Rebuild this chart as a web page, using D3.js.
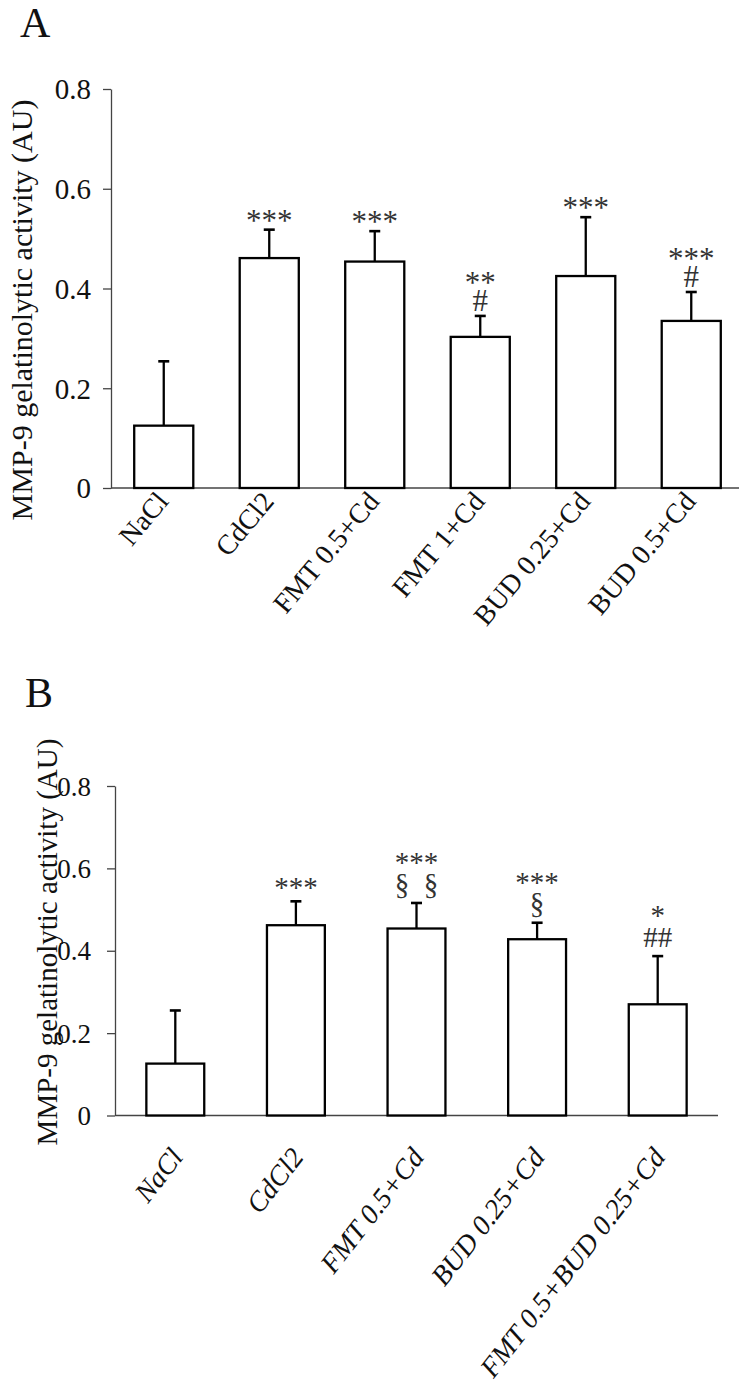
<!DOCTYPE html>
<html><head><meta charset="utf-8">
<script src="https://cdn.jsdelivr.net/npm/d3@7"></script>
<style>body{margin:0;background:#fff}svg{display:block}text{font-family:"Liberation Serif","Times New Roman",serif}</style>
</head><body>
<script>
// Panel A data
const catsA = ["NaCl","CdCl2","FMT 0.5+Cd","FMT 1+Cd","BUD 0.25+Cd","BUD 0.5+Cd"];
const meanA = [0.125,0.461,0.454,0.303,0.425,0.335];
const errA  = [0.129,0.057,0.061,0.042,0.118,0.058];
const annoA = [[],["***"],["***"],["**","#"],["***"],["***","#"]];
// Panel B data
const catsB = ["NaCl","CdCl2","FMT 0.5+Cd","BUD 0.25+Cd","FMT 0.5+BUD 0.25+Cd"];
const meanB = [0.126,0.462,0.454,0.428,0.270];
const errB  = [0.129,0.058,0.062,0.040,0.117];
const annoB = [[],["***"],["***","§\u2002§"],["***","§"],["*","##"]];
const yTicks = [0,0.2,0.4,0.6,0.8];
const yTickLabels = ["0","0.2","0.4","0.6","0.8"];

const svg = d3.select("body").append("svg").attr("width",752).attr("height",1391);

function panel(cfg){
  const g = svg.append("g");
  const x = d3.scaleBand().domain(cfg.cats).range([cfg.x0,cfg.x1]).paddingInner(cfg.pad).paddingOuter(cfg.pad/2);
  const y = d3.scaleLinear().domain([0,0.8]).range([cfg.yb,cfg.yt]);
  const ax = g.append("g").attr("transform",`translate(${cfg.x0},0)`)
    .call(d3.axisLeft(y).tickValues(yTicks).tickFormat((d,i)=>yTickLabels[i]).tickSize(8).tickPadding(cfg.tickPad).tickSizeOuter(0));
  ax.select(".domain").attr("stroke","#444").attr("stroke-width",1.3);
  ax.selectAll(".tick line").attr("stroke","#444").attr("stroke-width",1.3);
  ax.selectAll(".tick text").attr("font-size",cfg.tickFs).attr("fill","#111")
    .style("font-family",'"Liberation Serif",serif').attr("dy","0.34em");
  g.append("line").attr("x1",cfg.x0).attr("x2",cfg.xAxisEnd).attr("y1",y(0)).attr("y2",y(0))
    .attr("stroke","#444").attr("stroke-width",1.3);
  const bw = x.bandwidth();
  cfg.cats.forEach((c,i)=>{
    const cx = x(c)+bw/2;
    const top = y(cfg.mean[i]), cap = y(cfg.mean[i]+cfg.err[i]);
    g.append("line").attr("x1",cx).attr("x2",cx).attr("y1",top).attr("y2",cap).attr("stroke","#000").attr("stroke-width",2.3);
    g.append("line").attr("x1",cx-5.5).attr("x2",cx+5.5).attr("y1",cap).attr("y2",cap).attr("stroke","#000").attr("stroke-width",2.6);
    g.append("rect").attr("x",x(c)).attr("y",top).attr("width",bw).attr("height",y(0)-top)
      .attr("fill","#fff").attr("stroke","#000").attr("stroke-width",2.3);
    const lines = cfg.anno[i];
    lines.forEach((t,j)=>{
      const k = lines.length-1-j;
      const center = cap - cfg.annoGap - k*cfg.annoStep;
      const base = center + (t.includes("*") ? 0.52*cfg.annoFs : 0.33*cfg.annoFs);
      g.append("text").attr("x",cx).attr("y",base).attr("text-anchor","middle")
        .attr("font-size",cfg.annoFs).attr("fill","#333").text(t);
    });
    g.append("text").attr("transform",`translate(${cx+cfg.lblDx},${y(0)+cfg.lblDy}) rotate(${-cfg.angle})`)
      .attr("text-anchor","end").attr("font-size",cfg.lblFs).attr("font-style",cfg.italic?"italic":"normal")
      .attr("fill","#111").text(c);
  });
  g.append("text").attr("transform",`translate(${cfg.titleX},${cfg.titleY}) rotate(-90)`)
    .attr("text-anchor","middle").attr("font-size",cfg.titleFs).attr("fill","#111")
    .text("MMP-9 gelatinolytic activity (AU)");
  g.append("text").attr("x",cfg.letterX).attr("y",cfg.letterY).attr("font-size",cfg.letterFs).attr("fill","#111").text(cfg.letter);
}

panel({cats:catsA,mean:meanA,err:errA,anno:annoA,x0:111,x1:744,xAxisEnd:739,pad:0.44,yb:488,yt:89,
  tickPad:12,tickFs:29,annoFs:31,annoGap:15,annoStep:24,lblDx:6,lblDy:14,lblFs:28,angle:50,italic:false,
  titleX:32,titleY:310,titleFs:30,letter:"A",letterX:20,letterY:37,letterFs:42});
panel({cats:catsB,mean:meanB,err:errB,anno:annoB,x0:115,x1:718,xAxisEnd:718,pad:0.52,yb:1115.5,yt:786,
  tickPad:16,tickFs:27,annoFs:29,annoGap:19,annoStep:27,lblDx:9,lblDy:42,lblFs:28,angle:52,italic:true,
  titleX:57,titleY:942,titleFs:29,letter:"B",letterX:25,letterY:707,letterFs:42});
</script>
</body></html>
